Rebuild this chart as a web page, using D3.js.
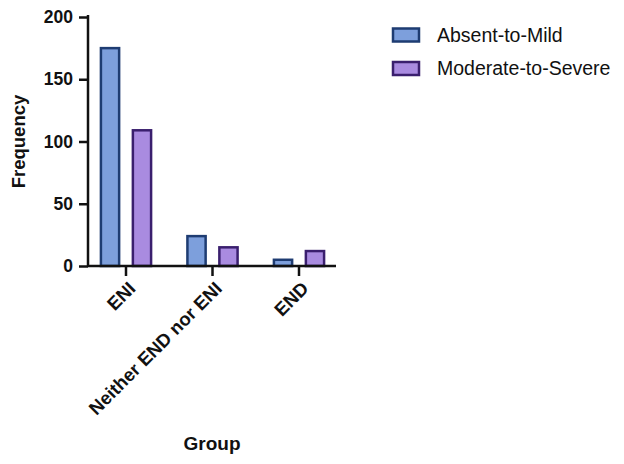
<!DOCTYPE html>
<html><head><meta charset="utf-8">
<script src="https://cdn.jsdelivr.net/npm/d3@7"></script>
<style>body{margin:0;background:#fff}svg{display:block;font-family:Arial,"Liberation Sans",sans-serif}</style>
</head><body>
<svg id="c" width="624" height="464"></svg>
<script>
const categories = ["ENI", "Neither END nor ENI", "END"];
const seriesNames = ["Absent-to-Mild", "Moderate-to-Severe"];
const absentToMild = [175, 24, 5];
const moderateToSevere = [109, 15, 12];
const yTicks = [0, 50, 100, 150, 200];

const fills = ["#7d9fdc", "#a98be0"];
const strokes = ["#1e3c72", "#3a1f6e"];

const svg = d3.select("#c");
const x0 = 88, x1 = 336, yTop = 17, yBot = 266;

const x = d3.scaleBand().domain(categories).range([82.75, 342.25]).paddingInner(0.42).paddingOuter(0.21);
const xs = d3.scaleBand().domain(seriesNames).range([0, x.bandwidth()]).paddingInner(0.43);
const y = d3.scaleLinear().domain([0, 200]).range([yBot, yTop]);

const series = [absentToMild, moderateToSevere];
series.forEach((vals, si) => {
  svg.append("g").selectAll("rect").data(vals).join("rect")
    .attr("x", (d, i) => x(categories[i]) + xs(seriesNames[si]))
    .attr("y", d => y(d))
    .attr("width", xs.bandwidth())
    .attr("height", d => y(0) - y(d))
    .attr("fill", fills[si])
    .attr("stroke", strokes[si])
    .attr("stroke-width", 2.5);
});

// Y axis
const ya = svg.append("g").attr("transform", `translate(${x0},0)`)
  .call(d3.axisLeft(y).tickValues(yTicks).tickSize(9).tickPadding(6));
ya.select(".domain").attr("stroke", "#111").attr("stroke-width", 2.5).attr("d", `M0,${yTop - 2}V${yBot}`);
ya.selectAll(".tick line").attr("stroke", "#111").attr("stroke-width", 2.5);
ya.selectAll(".tick text").attr("font-size", 17.5).attr("font-weight", "bold").attr("fill", "#111")
  .attr("font-family", "Arial, 'Liberation Sans', sans-serif");

// X axis
const xa = svg.append("g").attr("transform", `translate(0,${yBot})`)
  .call(d3.axisBottom(x).tickSize(10).tickSizeOuter(0));
xa.select(".domain").attr("stroke", "#111").attr("stroke-width", 2.5).attr("d", `M${x0},0H${x1}`);
xa.selectAll(".tick line").attr("stroke", "#111").attr("stroke-width", 2.5);
xa.selectAll(".tick text")
  .attr("font-size", 18.5).attr("font-weight", "bold").attr("fill", "#111")
  .attr("font-family", "Arial, 'Liberation Sans', sans-serif")
  .attr("text-anchor", "end")
  .attr("dy", "0.35em")
  .attr("transform", "translate(6,19) rotate(-45)")
  .attr("y", 0).attr("x", 0);

// Axis titles
svg.append("text").attr("x", 212).attr("y", 450).attr("text-anchor", "middle")
  .attr("font-size", 19).attr("font-weight", "bold").attr("fill", "#111").text("Group");
svg.append("text").attr("transform", "translate(25,141.5) rotate(-90)").attr("text-anchor", "middle")
  .attr("font-size", 18.5).attr("font-weight", "bold").attr("fill", "#111").text("Frequency");

// Legend
const lg = svg.append("g");
seriesNames.forEach((n, i) => {
  const gy = 28.5 + i * 33.5;
  lg.append("rect").attr("x", 393).attr("y", gy).attr("width", 26).attr("height", 13)
    .attr("fill", fills[i]).attr("stroke", strokes[i]).attr("stroke-width", 2.5);
  lg.append("text").attr("x", 437).attr("y", gy + 6.5).attr("dy", "0.35em")
    .attr("font-size", 19.5).attr("fill", "#111").text(n);
});
</script>
</body></html>
